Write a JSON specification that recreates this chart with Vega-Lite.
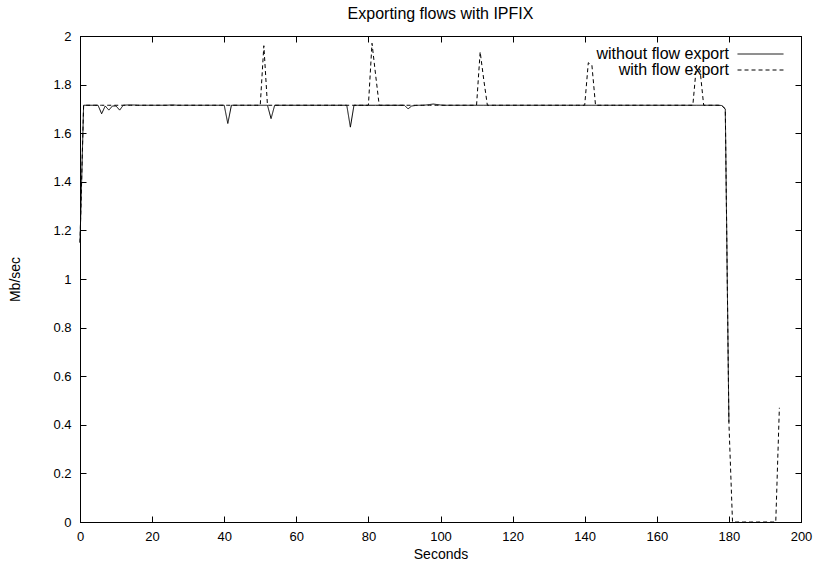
{
  "$schema": "https://vega.github.io/schema/vega-lite/v6.json",
  "width": 721,
  "height": 486,
  "autosize": {"type": "none"},
  "padding": {"left": 80, "top": 36, "right": 17, "bottom": 47},
  "title": {"text": "Exporting flows with IPFIX", "fontSize": 16, "font": "Liberation Sans", "fontWeight": "normal", "color": "black", "offset": 8.5, "anchor": "middle"},
  "config": {
    "view": {"stroke": "black", "strokeWidth": 1},
    "font": "Liberation Sans",
    "axis": {"grid": false, "domainColor": "black", "tickColor": "black", "labelColor": "black", "titleColor": "black", "labelFont": "Liberation Sans", "titleFont": "Liberation Sans", "labelFontSize": 13, "titleFontSize": 14, "titleFontWeight": "normal", "tickSize": -6, "domainWidth": 1, "tickWidth": 1, "labelFlush": false, "labelOverlap": false, "labelBound": false},
    "legend": {"labelFont": "Liberation Sans", "labelFontSize": 16, "labelColor": "black"}
  },
  "data": {"values": [
    {"t":0,"without flow export":1.15,"with flow export":1.15},
    {"t":1,"without flow export":1.715,"with flow export":1.715},
    {"t":2,"without flow export":1.715,"with flow export":1.715},
    {"t":3,"without flow export":1.715,"with flow export":1.715},
    {"t":4,"without flow export":1.715,"with flow export":1.715},
    {"t":5,"without flow export":1.715,"with flow export":1.715},
    {"t":6,"without flow export":1.68,"with flow export":1.715},
    {"t":7,"without flow export":1.712,"with flow export":1.715},
    {"t":8,"without flow export":1.695,"with flow export":1.715},
    {"t":9,"without flow export":1.712,"with flow export":1.715},
    {"t":10,"without flow export":1.712,"with flow export":1.715},
    {"t":11,"without flow export":1.695,"with flow export":1.715},
    {"t":12,"without flow export":1.715,"with flow export":1.715},
    {"t":13,"without flow export":1.716,"with flow export":1.715},
    {"t":14,"without flow export":1.716,"with flow export":1.715},
    {"t":15,"without flow export":1.716,"with flow export":1.715},
    {"t":16,"without flow export":1.715,"with flow export":1.715},
    {"t":17,"without flow export":1.715,"with flow export":1.715},
    {"t":18,"without flow export":1.715,"with flow export":1.715},
    {"t":19,"without flow export":1.715,"with flow export":1.715},
    {"t":20,"without flow export":1.715,"with flow export":1.715},
    {"t":21,"without flow export":1.715,"with flow export":1.715},
    {"t":22,"without flow export":1.715,"with flow export":1.715},
    {"t":23,"without flow export":1.715,"with flow export":1.715},
    {"t":24,"without flow export":1.715,"with flow export":1.715},
    {"t":25,"without flow export":1.716,"with flow export":1.715},
    {"t":26,"without flow export":1.716,"with flow export":1.715},
    {"t":27,"without flow export":1.715,"with flow export":1.715},
    {"t":28,"without flow export":1.715,"with flow export":1.715},
    {"t":29,"without flow export":1.715,"with flow export":1.715},
    {"t":30,"without flow export":1.715,"with flow export":1.715},
    {"t":31,"without flow export":1.715,"with flow export":1.715},
    {"t":32,"without flow export":1.715,"with flow export":1.715},
    {"t":33,"without flow export":1.715,"with flow export":1.715},
    {"t":34,"without flow export":1.715,"with flow export":1.715},
    {"t":35,"without flow export":1.715,"with flow export":1.715},
    {"t":36,"without flow export":1.715,"with flow export":1.715},
    {"t":37,"without flow export":1.715,"with flow export":1.715},
    {"t":38,"without flow export":1.715,"with flow export":1.715},
    {"t":39,"without flow export":1.715,"with flow export":1.715},
    {"t":40,"without flow export":1.715,"with flow export":1.715},
    {"t":41,"without flow export":1.64,"with flow export":1.715},
    {"t":42,"without flow export":1.715,"with flow export":1.715},
    {"t":43,"without flow export":1.715,"with flow export":1.715},
    {"t":44,"without flow export":1.715,"with flow export":1.715},
    {"t":45,"without flow export":1.715,"with flow export":1.715},
    {"t":46,"without flow export":1.715,"with flow export":1.715},
    {"t":47,"without flow export":1.715,"with flow export":1.715},
    {"t":48,"without flow export":1.715,"with flow export":1.715},
    {"t":49,"without flow export":1.715,"with flow export":1.715},
    {"t":50,"without flow export":1.715,"with flow export":1.715},
    {"t":51,"without flow export":1.715,"with flow export":1.96},
    {"t":52,"without flow export":1.715,"with flow export":1.715},
    {"t":53,"without flow export":1.66,"with flow export":1.715},
    {"t":54,"without flow export":1.715,"with flow export":1.715},
    {"t":55,"without flow export":1.715,"with flow export":1.715},
    {"t":56,"without flow export":1.715,"with flow export":1.715},
    {"t":57,"without flow export":1.715,"with flow export":1.715},
    {"t":58,"without flow export":1.715,"with flow export":1.715},
    {"t":59,"without flow export":1.715,"with flow export":1.715},
    {"t":60,"without flow export":1.715,"with flow export":1.715},
    {"t":61,"without flow export":1.715,"with flow export":1.715},
    {"t":62,"without flow export":1.715,"with flow export":1.715},
    {"t":63,"without flow export":1.715,"with flow export":1.715},
    {"t":64,"without flow export":1.715,"with flow export":1.715},
    {"t":65,"without flow export":1.715,"with flow export":1.715},
    {"t":66,"without flow export":1.715,"with flow export":1.715},
    {"t":67,"without flow export":1.715,"with flow export":1.715},
    {"t":68,"without flow export":1.715,"with flow export":1.715},
    {"t":69,"without flow export":1.715,"with flow export":1.715},
    {"t":70,"without flow export":1.715,"with flow export":1.715},
    {"t":71,"without flow export":1.715,"with flow export":1.715},
    {"t":72,"without flow export":1.715,"with flow export":1.715},
    {"t":73,"without flow export":1.715,"with flow export":1.715},
    {"t":74,"without flow export":1.715,"with flow export":1.715},
    {"t":75,"without flow export":1.625,"with flow export":1.715},
    {"t":76,"without flow export":1.715,"with flow export":1.715},
    {"t":77,"without flow export":1.715,"with flow export":1.715},
    {"t":78,"without flow export":1.715,"with flow export":1.715},
    {"t":79,"without flow export":1.715,"with flow export":1.715},
    {"t":80,"without flow export":1.715,"with flow export":1.715},
    {"t":81,"without flow export":1.715,"with flow export":1.97},
    {"t":82,"without flow export":1.715,"with flow export":1.84},
    {"t":83,"without flow export":1.715,"with flow export":1.715},
    {"t":84,"without flow export":1.715,"with flow export":1.715},
    {"t":85,"without flow export":1.715,"with flow export":1.715},
    {"t":86,"without flow export":1.715,"with flow export":1.715},
    {"t":87,"without flow export":1.715,"with flow export":1.715},
    {"t":88,"without flow export":1.715,"with flow export":1.715},
    {"t":89,"without flow export":1.715,"with flow export":1.715},
    {"t":90,"without flow export":1.715,"with flow export":1.715},
    {"t":91,"without flow export":1.70,"with flow export":1.715},
    {"t":92,"without flow export":1.712,"with flow export":1.715},
    {"t":93,"without flow export":1.714,"with flow export":1.715},
    {"t":94,"without flow export":1.715,"with flow export":1.715},
    {"t":95,"without flow export":1.715,"with flow export":1.715},
    {"t":96,"without flow export":1.716,"with flow export":1.715},
    {"t":97,"without flow export":1.718,"with flow export":1.715},
    {"t":98,"without flow export":1.72,"with flow export":1.715},
    {"t":99,"without flow export":1.718,"with flow export":1.715},
    {"t":100,"without flow export":1.716,"with flow export":1.715},
    {"t":101,"without flow export":1.715,"with flow export":1.715},
    {"t":102,"without flow export":1.715,"with flow export":1.715},
    {"t":103,"without flow export":1.715,"with flow export":1.715},
    {"t":104,"without flow export":1.715,"with flow export":1.715},
    {"t":105,"without flow export":1.715,"with flow export":1.715},
    {"t":106,"without flow export":1.715,"with flow export":1.715},
    {"t":107,"without flow export":1.715,"with flow export":1.715},
    {"t":108,"without flow export":1.715,"with flow export":1.715},
    {"t":109,"without flow export":1.715,"with flow export":1.715},
    {"t":110,"without flow export":1.715,"with flow export":1.715},
    {"t":111,"without flow export":1.715,"with flow export":1.935},
    {"t":112,"without flow export":1.715,"with flow export":1.82},
    {"t":113,"without flow export":1.715,"with flow export":1.715},
    {"t":114,"without flow export":1.715,"with flow export":1.715},
    {"t":115,"without flow export":1.715,"with flow export":1.715},
    {"t":116,"without flow export":1.715,"with flow export":1.715},
    {"t":117,"without flow export":1.715,"with flow export":1.715},
    {"t":118,"without flow export":1.715,"with flow export":1.715},
    {"t":119,"without flow export":1.715,"with flow export":1.715},
    {"t":120,"without flow export":1.715,"with flow export":1.715},
    {"t":121,"without flow export":1.715,"with flow export":1.715},
    {"t":122,"without flow export":1.715,"with flow export":1.715},
    {"t":123,"without flow export":1.715,"with flow export":1.715},
    {"t":124,"without flow export":1.715,"with flow export":1.715},
    {"t":125,"without flow export":1.715,"with flow export":1.715},
    {"t":126,"without flow export":1.715,"with flow export":1.715},
    {"t":127,"without flow export":1.715,"with flow export":1.715},
    {"t":128,"without flow export":1.715,"with flow export":1.715},
    {"t":129,"without flow export":1.715,"with flow export":1.715},
    {"t":130,"without flow export":1.715,"with flow export":1.715},
    {"t":131,"without flow export":1.715,"with flow export":1.715},
    {"t":132,"without flow export":1.715,"with flow export":1.715},
    {"t":133,"without flow export":1.715,"with flow export":1.715},
    {"t":134,"without flow export":1.715,"with flow export":1.715},
    {"t":135,"without flow export":1.715,"with flow export":1.715},
    {"t":136,"without flow export":1.715,"with flow export":1.715},
    {"t":137,"without flow export":1.715,"with flow export":1.715},
    {"t":138,"without flow export":1.715,"with flow export":1.715},
    {"t":139,"without flow export":1.715,"with flow export":1.715},
    {"t":140,"without flow export":1.715,"with flow export":1.715},
    {"t":141,"without flow export":1.715,"with flow export":1.89},
    {"t":142,"without flow export":1.715,"with flow export":1.88},
    {"t":143,"without flow export":1.715,"with flow export":1.715},
    {"t":144,"without flow export":1.715,"with flow export":1.715},
    {"t":145,"without flow export":1.715,"with flow export":1.715},
    {"t":146,"without flow export":1.715,"with flow export":1.715},
    {"t":147,"without flow export":1.715,"with flow export":1.715},
    {"t":148,"without flow export":1.715,"with flow export":1.715},
    {"t":149,"without flow export":1.715,"with flow export":1.715},
    {"t":150,"without flow export":1.715,"with flow export":1.715},
    {"t":151,"without flow export":1.715,"with flow export":1.715},
    {"t":152,"without flow export":1.715,"with flow export":1.715},
    {"t":153,"without flow export":1.715,"with flow export":1.715},
    {"t":154,"without flow export":1.715,"with flow export":1.715},
    {"t":155,"without flow export":1.715,"with flow export":1.715},
    {"t":156,"without flow export":1.715,"with flow export":1.715},
    {"t":157,"without flow export":1.715,"with flow export":1.715},
    {"t":158,"without flow export":1.715,"with flow export":1.715},
    {"t":159,"without flow export":1.715,"with flow export":1.715},
    {"t":160,"without flow export":1.715,"with flow export":1.715},
    {"t":161,"without flow export":1.715,"with flow export":1.715},
    {"t":162,"without flow export":1.715,"with flow export":1.715},
    {"t":163,"without flow export":1.715,"with flow export":1.715},
    {"t":164,"without flow export":1.715,"with flow export":1.715},
    {"t":165,"without flow export":1.715,"with flow export":1.715},
    {"t":166,"without flow export":1.715,"with flow export":1.715},
    {"t":167,"without flow export":1.715,"with flow export":1.715},
    {"t":168,"without flow export":1.715,"with flow export":1.715},
    {"t":169,"without flow export":1.715,"with flow export":1.715},
    {"t":170,"without flow export":1.715,"with flow export":1.715},
    {"t":171,"without flow export":1.715,"with flow export":1.88},
    {"t":172,"without flow export":1.715,"with flow export":1.86},
    {"t":173,"without flow export":1.715,"with flow export":1.715},
    {"t":174,"without flow export":1.715,"with flow export":1.715},
    {"t":175,"without flow export":1.715,"with flow export":1.715},
    {"t":176,"without flow export":1.715,"with flow export":1.715},
    {"t":177,"without flow export":1.715,"with flow export":1.715},
    {"t":178,"without flow export":1.714,"with flow export":1.714},
    {"t":179,"without flow export":1.70,"with flow export":1.70},
    {"t":180,"without flow export":0.41,"with flow export":0.41},
    {"t":181,"with flow export":0},
    {"t":182,"with flow export":0},
    {"t":183,"with flow export":0},
    {"t":184,"with flow export":0},
    {"t":185,"with flow export":0},
    {"t":186,"with flow export":0},
    {"t":187,"with flow export":0},
    {"t":188,"with flow export":0},
    {"t":189,"with flow export":0},
    {"t":190,"with flow export":0},
    {"t":191,"with flow export":0},
    {"t":192,"with flow export":0},
    {"t":193,"with flow export":0},
    {"t":194,"with flow export":0.47}
  ]},
  "transform": [
    {"fold": ["without flow export", "with flow export"], "as": ["series", "value"]},
    {"filter": "isValid(datum.value)"}
  ],
  "layer": [
    {
      "mark": {"type": "line", "color": "black", "strokeWidth": 1},
      "encoding": {
        "x": {"field": "t", "type": "quantitative", "scale": {"domain": [0, 200], "nice": false, "zero": false},
              "axis": {"title": "Seconds", "values": [0,20,40,60,80,100,120,140,160,180,200], "labelPadding": 14, "titleY": 36, "titleBaseline": "alphabetic"}},
        "y": {"field": "value", "type": "quantitative", "scale": {"domain": [0, 2], "nice": false},
              "axis": {"title": "Mb/sec", "values": [0,0.2,0.4,0.6,0.8,1,1.2,1.4,1.6,1.8,2], "format": "~g", "labelPadding": 15, "titleX": -65, "titleBaseline": "middle"}},
        "strokeDash": {"field": "series", "type": "nominal",
          "scale": {"domain": ["without flow export", "with flow export"], "range": [[1, 0], [4, 3]]},
          "legend": {"title": null, "orient": "none", "legendX": 672.5, "legendY": 10, "padding": 0, "rowPadding": -2,
                     "symbolType": "M-4,0H4", "symbolSize": 132, "symbolStrokeColor": "black", "symbolFillColor": "transparent", "symbolStrokeWidth": 1,
                     "labelAlign": "right", "labelOffset": -39.5, "labelFontSize": 16}}
      }
    },
    {
      "mark": {"type": "line", "strokeOpacity": 0},
      "encoding": {
        "x": {"field": "t", "type": "quantitative", "axis": {"orient": "top", "labels": false, "title": null, "values": [0,20,40,60,80,100,120,140,160,180,200]}},
        "y": {"field": "value", "type": "quantitative", "axis": {"orient": "right", "labels": false, "title": null, "values": [0,0.2,0.4,0.6,0.8,1,1.2,1.4,1.6,1.8,2]}},
        "detail": {"field": "series"}
      }
    }
  ],
  "resolve": {"axis": {"x": "independent", "y": "independent"}}
}
